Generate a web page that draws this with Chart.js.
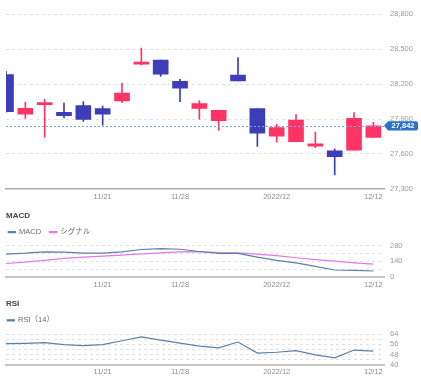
<!DOCTYPE html>
<html><head><meta charset="utf-8">
<script src="https://cdn.jsdelivr.net/npm/chart.js@4.4.1/dist/chart.umd.min.js"></script>
<style>
html,body{margin:0;padding:0;background:#fff;}
body{width:421px;height:380px;position:relative;overflow:hidden;}
.c{position:absolute;left:0;width:421px;}
</style></head><body>
<div class="c" style="top:0;height:205px"><canvas id="price"></canvas></div>
<div class="c" style="top:205px;height:88px"><canvas id="macd"></canvas></div>
<div class="c" style="top:290px;height:90px"><canvas id="rsi"></canvas></div>
<script>
// ---- data ----
const dates = ['11/14','11/15','11/16','11/17','11/18','11/21','11/22','11/24','11/25','11/28',
               '11/29','11/30','12/1','12/2','12/5','12/6','12/7','12/8','12/9','12/12'];
const opens  = [28283,27941,28024,27958,28016,27990,28055,28372,28406,28225,27992,27886,28277,27990,27754,27705,27667,27628,27633,27742];
const highs  = [28310,28044,28070,28038,28050,28012,28208,28510,28406,28242,28059,27975,28429,27990,27854,27938,27788,27645,27955,27872];
const lows   = [27960,27906,27745,27909,27880,27848,28041,28366,28266,28050,27900,27803,28228,27665,27702,27705,27654,27421,27633,27742];
const closes = [27964,27992,28041,27929,27897,27943,28124,28389,28285,28165,28033,27975,28228,27779,27826,27891,27688,27576,27906,27842];
const macdLine   = [206,214,226,223,214,214,226,247,255,249,229,212,212,179,150,127,95,63,60,54];
const signalLine = [121,133,150,168,179,188,197,208,217,226,228,220,217,206,191,173,156,142,127,115];
const rsi14      = [56.6,56.8,57.3,55.8,55.1,55.8,58.8,61.8,59.3,57.0,54.6,53.3,57.8,49.2,49.9,51.1,47.9,45.5,51.6,50.7];
const xTickDates  = ['11/21','11/28','12/5','12/12'];
const xTickLabels = ['11/21','11/28','2022/12','12/12'];
const priceTicks = [27300,27600,27900,28200,28500,28800];
const macdTicks = [0,140,280];
const rsiTicks = [40,48,56,64];

// ---- styles ----
const RED = '#ff3366', BLUE = '#3d3db7';
const GRID = '#dde2e9';
const TICK = '#9a9a9a';
Chart.defaults.font.family = "'Liberation Sans','Noto Sans CJK JP',sans-serif";
Chart.defaults.animation = false;
Chart.defaults.events = [];

function xScale(pad, bw, bc){
  return {
    type:'linear', min:0, max:19.55, offset:false,
    grid:{display:false, drawTicks:false},
    border:{display:true, color:bc, width:bw},
    afterBuildTicks(s){ s.ticks = xTickDates.map(d=>({value: dates.indexOf(d)})); },
    ticks:{padding:pad, autoSkip:false, maxRotation:0, color:'#8c8c8c', font:{size:7.5},
      callback(v){ const i = xTickDates.indexOf(dates[v]); return i>=0 ? xTickLabels[i] : ''; }}
  };
}
function yRight(min,max,step,shown,fmt){
  return {
    position:'right', min, max,
    ticks:{stepSize:step, autoSkip:false, padding:6, color:TICK, font:{size:7.5},
      callback(v){ return shown.includes(v) ? fmt(v) : ''; }},
    grid:{color:GRID, drawTicks:false, lineWidth:1},
    border:{display:false, dash:[3,3]},
    afterFit(s){ s.width = 37; }
  };
}
const dummyLeft = {type:'linear', position:'left', display:true,
  grid:{display:false, drawTicks:false}, border:{display:false}, ticks:{display:false},
  afterFit(s){ s.width = 6; }};

const up = closes.map((c,i)=>c>=opens[i]);
const candleColors = up.map(u=>u?RED:BLUE);

const lastPrice = {
  id:'lastPrice',
  afterDatasetsDraw(chart){
    const {ctx, chartArea:a, scales:{y}} = chart;
    const py = Math.round(y.getPixelForValue(closes[closes.length-1])) + 0.5;
    ctx.save();
    ctx.strokeStyle = '#7ea8da'; ctx.lineWidth = 1; ctx.setLineDash([2,2]);
    ctx.beginPath(); ctx.moveTo(a.left, py); ctx.lineTo(a.right, py); ctx.stroke();
    ctx.restore();
  },
  afterDraw(chart){
    const {ctx, chartArea:a, scales:{y}} = chart;
    const py = y.getPixelForValue(closes[closes.length-1]);
    const x0 = a.right, h = 4.6, x1 = x0 + 4, x2 = x0 + 34, r = 2;
    ctx.save();
    ctx.fillStyle = '#2a72c6';
    ctx.beginPath();
    ctx.moveTo(x0, py);
    ctx.lineTo(x1, py - h);
    ctx.lineTo(x2 - r, py - h);
    ctx.arcTo(x2, py - h, x2, py - h + r, r);
    ctx.lineTo(x2, py + h - r);
    ctx.arcTo(x2, py + h, x2 - r, py + h, r);
    ctx.lineTo(x1, py + h);
    ctx.closePath(); ctx.fill();
    ctx.fillStyle = '#fff';
    ctx.font = "bold 7.5px 'Liberation Sans',sans-serif";
    ctx.textAlign = 'center'; ctx.textBaseline = 'middle';
    ctx.fillText(closes[closes.length-1].toLocaleString('en-US'), (x1 + x2)/2, py + 0.5);
    ctx.restore();
  }
};

new Chart('price', {
  type:'bar',
  data:{datasets:[
    {label:'body', data: dates.map((d,i)=>({x:i, y:[opens[i], closes[i]]})),
     backgroundColor: candleColors, barThickness:15, grouped:false, borderWidth:0},
    {label:'wick', data: dates.map((d,i)=>({x:i, y:[lows[i], highs[i]]})),
     backgroundColor: candleColors, barThickness:1, grouped:false, borderWidth:0}
  ]},
  options:{
    responsive:true, maintainAspectRatio:false,
    layout:{padding:{left:6, right:0, top:14.3, bottom:0.7}},
    plugins:{legend:{display:false}, tooltip:{enabled:false}},
    scales:{
      x: xScale(3.2, 1.5, '#aaaaaa'),
      y: yRight(27300, 28800, 300, priceTicks, v=>v.toLocaleString('en-US'))
    }
  },
  plugins:[lastPrice]
});

function legendOpts(pad){
  return {display:true, align:'start', fullSize:true,
    labels:{boxWidth:7, boxHeight:1, padding:pad, color:'#6a6a6a', font:{size:7.5}}};
}
function titleOpts(text, top, bottom){
  return {display:true, text, align:'start', fullSize:false, color:'#444',
    font:{size:8, weight:'bold', lineHeight:1}, padding:{top, bottom}};
}

new Chart('macd', {
  type:'line',
  data:{datasets:[
    {label:'MACD', data: macdLine.map((v,i)=>({x:i,y:v})), borderColor:'#5b80a8', backgroundColor:'#5b80a8',
     borderWidth:1.2, pointRadius:0, tension:0},
    {label:'シグナル', data: signalLine.map((v,i)=>({x:i,y:v})), borderColor:'#e07ae4', backgroundColor:'#e07ae4',
     borderWidth:1.2, pointRadius:0, tension:0}
  ]},
  options:{
    responsive:true, maintainAspectRatio:false,
    layout:{padding:{left:0, right:0, top:0, bottom:1}},
    plugins:{title:titleOpts('MACD', 7, 0), legend:legendOpts(8.3), tooltip:{enabled:false}},
    scales:{
      x: xScale(3, 2, '#c6c6c6'),
      y: yRight(0, 280, 70, macdTicks, v=>String(v)),
      yl: dummyLeft
    }
  }
});

new Chart('rsi', {
  type:'line',
  data:{datasets:[
    {label:'RSI（14）', data: rsi14.map((v,i)=>({x:i,y:v})), borderColor:'#5b80a8', backgroundColor:'#5b80a8',
     borderWidth:1.2, pointRadius:0, tension:0}
  ]},
  options:{
    responsive:true, maintainAspectRatio:false,
    layout:{padding:{left:0, right:0, top:0, bottom:1}},
    plugins:{title:titleOpts('RSI', 10.2, 1.05), legend:legendOpts(7.3), tooltip:{enabled:false}},
    scales:{
      x: xScale(2.5, 2, '#c6c6c6'),
      y: yRight(40, 64, 4, rsiTicks, v=>String(v)),
      yl: dummyLeft
    }
  }
});
</script>
</body></html>
